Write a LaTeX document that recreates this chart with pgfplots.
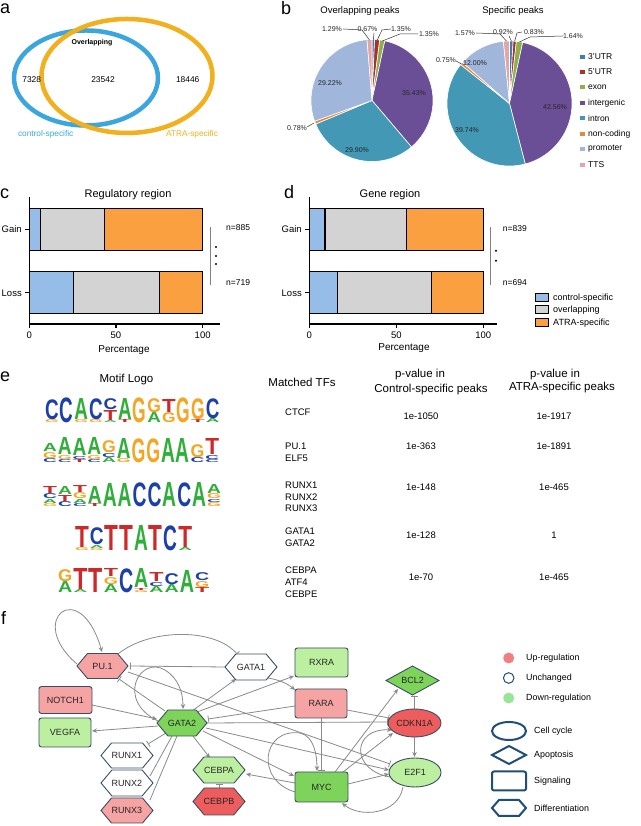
\documentclass[border=0pt]{standalone}
\usepackage{fontspec}
\setmainfont{Liberation Sans}
\usepackage{graphicx}
\usepackage{pgfplots}
\pgfplotsset{compat=1.18}
\usetikzlibrary{arrows.meta}
\newcommand\fs[1]{\fontsize{#1pt}{#1pt}\selectfont}
\definecolor{vblue}{HTML}{3AA6DD}
\definecolor{vorange}{HTML}{F2B01E}
\definecolor{c3utr}{HTML}{3F7DB8}
\definecolor{c5utr}{HTML}{A8322D}
\definecolor{cexon}{HTML}{8DB04A}
\definecolor{cinter}{HTML}{6B4F96}
\definecolor{cintron}{HTML}{4298B5}
\definecolor{cnonc}{HTML}{E9873A}
\definecolor{cprom}{HTML}{A0B6DB}
\definecolor{ctts}{HTML}{E3A6A5}
\definecolor{ctrl}{HTML}{96BCE8}
\definecolor{over}{HTML}{D3D3D3}
\definecolor{atra}{HTML}{FBA040}
\definecolor{lA}{HTML}{2FAE3A}
\definecolor{lC}{HTML}{1C3FA8}
\definecolor{lG}{HTML}{F4A623}
\definecolor{lT}{HTML}{CC2A2A}
\definecolor{npink}{HTML}{F5A3A3}
\definecolor{nred}{HTML}{EE5D5D}
\definecolor{nlgreen}{HTML}{BDEFA0}
\definecolor{ngreen}{HTML}{7ED35A}
\definecolor{nedge}{HTML}{3A4E63}
\definecolor{egray}{HTML}{8A8A8A}
\definecolor{lgblue}{HTML}{1F4E79}
\definecolor{legup}{HTML}{F08080}
\definecolor{legdown}{HTML}{98E598}

\newcommand\lc[3]{%
 \foreach \L/\h [remember=\yy as \yb (initially #2), evaluate=\h as \yy using \yb-\h-0.4] in {#3}{%
   \node[inner sep=0pt, anchor=south west] at (#1,\yb) {\resizebox*{\lw pt}{\h pt}{\textcolor{l\L}{\bfseries \L}}};}}
\newcommand\hex[6]{%
  \filldraw[fill=#5, draw=nedge, line width=0.9pt] ({#1-#3/2},#2) -- ({#1-#3/2+0.42*#4},{#2-#4/2}) -- ({#1+#3/2-0.42*#4},{#2-#4/2}) -- ({#1+#3/2},#2) -- ({#1+#3/2-0.42*#4},{#2+#4/2}) -- ({#1-#3/2+0.42*#4},{#2+#4/2}) -- cycle;
  \node[font=\fs{9}, text=black!85] at (#1,#2) {#6};}
\newcommand\rct[6]{%
  \filldraw[fill=#5, draw=nedge, line width=0.9pt, rounded corners=2.5pt] ({#1-#3/2},{#2-#4/2}) rectangle ({#1+#3/2},{#2+#4/2});
  \node[font=\fs{9}, text=black!85] at (#1,#2) {#6};}

\tikzset{edge/.style={draw=egray, line width=0.8pt},
  ar/.style={-{Stealth[length=5pt,width=4.5pt]}},
  tb/.style={-{Bar[width=7pt]}}}

\begin{document}
\begin{tikzpicture}[x=1pt,y=1pt]
\useasboundingbox (0,0) rectangle (640,826);
\fill[white] (0,0) rectangle (640,826);

% ---------- panel c ----------
\begin{axis}[
  at={(29.3pt,502pt)}, anchor=south west,
  scale only axis, width=190.7pt, height=126.5pt,
  xmin=0, xmax=110, ymin=-0.49, ymax=1.5,
  xbar stacked, bar width=42pt,
  axis lines=left, axis line style={-, line width=1.1pt, black},
  xtick={0,50,100}, ytick={0,1}, yticklabels={Loss,Gain},
  tick align=outside, major tick length=4pt, tick style={line width=1.1pt, black},
  tick label style={font=\fs{9.5}}, /pgf/number format/assume math mode=true,
  every axis plot/.append style={draw=black, line width=1.1pt},
  clip=false]
\addplot[fill=ctrl] coordinates {(6.5,1) (25.4,0)};
\addplot[fill=over] coordinates {(36.8,1) (49.6,0)};
\addplot[fill=atra] coordinates {(56.7,1) (25.0,0)};
\end{axis}

% ---------- panel d ----------
\begin{axis}[
  at={(309.3pt,502pt)}, anchor=south west,
  scale only axis, width=187.7pt, height=126.5pt,
  xmin=0, xmax=107.9, ymin=-0.49, ymax=1.5,
  xbar stacked, bar width=42pt,
  axis lines=left, axis line style={-, line width=1.1pt, black},
  xtick={0,50,100}, ytick={0,1}, yticklabels={Loss,Gain},
  tick align=outside, major tick length=4pt, tick style={line width=1.1pt, black},
  tick label style={font=\fs{9.5}}, /pgf/number format/assume math mode=true,
  every axis plot/.append style={draw=black, line width=1.1pt},
  clip=false]
\addplot[fill=ctrl] coordinates {(9.0,1) (16.1,0)};
\addplot[fill=over] coordinates {(46.9,1) (54.0,0)};
\addplot[fill=atra] coordinates {(44.1,1) (29.9,0)};
\end{axis}

% ---------- pies (normal orientation) ----------
\foreach \p/\c [remember=\e as \s (initially 90), evaluate=\p as \e using \s-3.6*\p] in
 {0.67/c3utr,1.35/c5utr,1.35/cexon,35.43/cinter,29.90/cintron,0.78/cnonc,29.22/cprom,1.29/ctts}{
  \filldraw[fill=\c, draw=white, line width=0.6pt] (372,725.5) -- ++(\s:61pt) arc[start angle=\s, end angle=\e, radius=61pt] -- cycle;}
\foreach \p/\c [remember=\e as \s (initially 90), evaluate=\p as \e using \s-3.6*\p] in
 {0.92/c3utr,0.83/c5utr,1.64/cexon,42.56/cinter,39.74/cintron,0.75/cnonc,12.00/cprom,1.57/ctts}{
  \filldraw[fill=\c, draw=white, line width=0.6pt] (509.5,722.5) -- ++(\s:62.5pt) arc[start angle=\s, end angle=\e, radius=62.5pt] -- cycle;}

\begin{scope}[y=-1pt, yshift=826pt]
% panel letters
\foreach \t/\x/\y in {a/0/14,b/281/14.5,c/0/198.3,d/284/198.3,e/0/381.7,f/1/625}
  \node[anchor=base west, font=\fs{18}, inner sep=0pt] at (\x,\y) {\t};

% ---------- Venn ----------
\draw[vblue, line width=4.5pt] (86,78) ellipse [x radius=72pt, y radius=47.5pt];
\draw[vorange, line width=4.5pt] (127,76) ellipse [x radius=85.5pt, y radius=57pt];
\node[font=\fs{7}\bfseries] at (92,43) {Overlapping};
\node[font=\fs{8.4}] at (31.7,80) {7328};
\node[font=\fs{8.4}] at (103,80) {23542};
\node[font=\fs{8.4}] at (187.7,80) {18446};
\node[font=\fs{8.3}, text=vblue] at (45.7,134) {control-specific};
\node[font=\fs{8.3}, text=vorange] at (192,134) {ATRA-specific};

% ---------- pie labels ----------
\node[font=\fs{9.5}] at (360,11) {Overlapping peaks};
\node[font=\fs{9.5}] at (513,11) {Specific peaks};
\begin{scope}[font=\fs{7}, text=black!85]
\node at (332,29) {1.29\%};
\node at (367.5,29) {0.67\%};
\node at (401,29) {1.35\%};
\node at (429,34) {1.35\%};
\node at (297,128) {0.78\%};
\node at (330,83) {29.22\%};
\node at (414,93) {35.43\%};
\node at (357,150) {29.90\%};
\node at (465,33) {1.57\%};
\node at (503,32) {0.92\%};
\node at (534,32) {0.83\%};
\node at (573,36) {1.64\%};
\node at (446,60) {0.75\%};
\node at (475,63) {12.00\%};
\node at (555,107) {42.56\%};
\node at (467,130) {39.74\%};
\end{scope}
\begin{scope}[draw=black!80, line width=0.5pt]
\draw (343,29) -- (362,30) -- (369.5,40);
\draw (374,33) -- (373.3,40);
\draw (391,29) -- (382,30) -- (377.2,40);
\draw (418,34) -- (400,34) -- (382.3,41);
\draw (307,127) -- (314,123);
\draw (476,33) -- (500,34) -- (506.4,41);
\draw (509,36) -- (511.4,41);
\draw (522,32) -- (517,33) -- (514.7,41);
\draw (563,36) -- (530,37) -- (519.5,42);
\draw (456,61) -- (461.6,64);
\end{scope}
% pie legend
\foreach \c/\t/\y in {c3utr/3'UTR/57,c5utr/5'UTR/72,cexon/exon/87,cinter/intergenic/103,cintron/intron/118,cnonc/non-coding/134,cprom/promoter/149,ctts/TTS/165}{
  \fill[\c] (580,\y-2.3) rectangle (584.6,\y+2.3);
  \node[anchor=west, font=\fs{8.5}, inner sep=0pt] at (588,\y) {\t};}

% ---------- c/d annotations ----------
\node[font=\fs{11}] at (128,195) {Regulatory region};
\node[font=\fs{11}] at (390,195) {Gene region};
\node[font=\fs{10}] at (124,350) {Percentage};
\node[font=\fs{10}] at (404,348) {Percentage};
\draw[gray, line width=0.8pt] (210,227) -- (210,285);
\foreach \y in {247,256,264} \fill (216,\y) circle (1.1pt);
\draw[gray, line width=0.8pt] (490,227) -- (490,285);
\foreach \y in {250.7,260.7} \fill (496,\y) circle (1.1pt);
\node[anchor=west, font=\fs{8.5}, inner sep=0pt] at (226,228) {n=885};
\node[anchor=west, font=\fs{8.5}, inner sep=0pt] at (226,283) {n=719};
\node[anchor=west, font=\fs{8.5}, inner sep=0pt] at (502.7,229) {n=839};
\node[anchor=west, font=\fs{8.5}, inner sep=0pt] at (502.7,283) {n=694};
\foreach \c/\t/\y in {ctrl/control-specific/297.7,over/overlapping/310,atra/ATRA-specific/323}{
  \filldraw[fill=\c, draw=black, line width=1pt] (535,\y-4) rectangle (548,\y+4);
  \node[anchor=west, font=\fs{9}, inner sep=0pt] at (553,\y) {\t};}

% ---------- panel e ----------
\node[font=\fs{11.5}] at (126.5,380) {Motif Logo};
\node[font=\fs{11.5}] at (302,382) {Matched TFs};
\node[font=\fs{11.5}] at (420,375) {p-value in};
\node[font=\fs{11.5}] at (431,390) {Control-specific peaks};
\node[font=\fs{11.5}] at (555,375) {p-value in};
\node[font=\fs{11.5}] at (562,388) {ATRA-specific peaks};
\begin{scope}[font=\fs{9.5}]
\foreach \t/\y in {CTCF/412,PU.1/446,ELF5/458,RUNX1/485,RUNX2/497,RUNX3/508.3,GATA1/531.7,GATA2/543.3,CEBPA/570.7,ATF4/582.7,CEBPE/594.3}
  \node[anchor=west, inner sep=0pt] at (285,\y) {\t};
\foreach \a/\b/\y in {1e-1050/1e-1917/416,1e-363/1e-1891/446,1e-148/1e-465/487,1e-128/1/535,1e-70/1e-465/577}{
  \node at (421,\y) {\a}; \node at (554,\y) {\b};}
\end{scope}

% logos
\def\lw{13.6}
\lc{45}{423}{G/3,C/20}
\lc{59.6}{423}{C/25}
\lc{74.2}{423}{G/3,A/21}
\lc{88.8}{423}{G/3,C/21}
\lc{103.4}{423}{A/2,T/10,C/11}
\lc{118}{423}{T/3,A/21}
\lc{132.6}{423}{G/25}
\lc{147.2}{423}{A/10,G/14}
\lc{161.8}{423}{G/10,T/13}
\lc{176.4}{423}{G/25}
\lc{191}{423}{T/3,G/21}
\lc{205.6}{423}{A/4,C/20}
\def\lw{13.8}
\lc{43}{463}{C/4,G/6,A/8}
\lc{57.75}{463}{C/3,G/4,A/17}
\lc{72.5}{463}{T/3,C/3,A/17}
\lc{87.25}{463}{C/3,G/4,A/17}
\lc{102}{463}{A/5,C/4,G/12}
\lc{116.75}{463}{G/4,A/20}
\lc{131.5}{463}{G/24}
\lc{146.25}{463}{G/24}
\lc{161}{463}{A/24}
\lc{175.75}{463}{A/24}
\lc{190.5}{463}{C/5,G/13}
\lc{205.25}{463}{C/3,C/4,T/16}
\def\lw{13.9}
\lc{43}{507}{G/3,A/4,C/5,T/7}
\lc{57.9}{507}{C/5,T/6,A/8}
\lc{72.8}{507}{C/3,A/4,G/6,T/7}
\lc{87.7}{507}{T/3,A/17}
\lc{102.6}{507}{A/23}
\lc{117.5}{507}{A/23}
\lc{132.4}{507}{C/24}
\lc{147.3}{507}{C/24}
\lc{162.2}{507}{A/24}
\lc{177.1}{507}{C/24}
\lc{192}{507}{A/24}
\lc{206.9}{507}{G/4,C/3,G/5,A/9}
\def\lw{13.8}
\lc{75}{551}{G/3,T/21}
\lc{89.75}{551}{G/2,A/3,C/17}
\lc{104.5}{551}{T/25}
\lc{119.25}{551}{T/25}
\lc{134}{551}{A/25}
\lc{148.75}{551}{T/25}
\lc{163.5}{551}{C/25}
\lc{178.25}{551}{A/3,T/21}
\def\lw{14.2}
\lc{58}{593}{A/11,G/12}
\lc{73.2}{593}{A/3,T/21}
\lc{88.4}{593}{T/24}
\lc{103.6}{593}{A/8,G/7,T/8}
\lc{118.8}{593}{C/24}
\lc{134}{593}{G/2,T/2,A/19}
\lc{149.2}{593}{A/6,C/4,T/9}
\lc{164.4}{593}{A/8,C/11}
\lc{179.6}{593}{A/22}
\lc{194.8}{593}{T/5,G/6,C/8}

% ---------- panel f: edges ----------
\draw[edge,ar] (77,664) .. controls (25,620) and (80,575) .. (102,652);
\draw[edge,tb] (118,654) .. controls (150,628) and (215,628) .. (237,654);
\draw[edge,tb] (225,667) -- (130,666);
\draw[edge,tb] (165,711) -- (119,679);
\draw[edge,tb] (128,672) -- (390,764);
\draw[edge,ar] (158,721) .. controls (115,700) and (140,655) .. (165,670) .. controls (178,678) and (183,692) .. (183,709);
\draw[edge,ar] (92,705) -- (157,719);
\draw[edge,ar] (158,726) -- (92,731);
\draw[edge,tb] (166,733) -- (148,744);
\draw[edge] (172,736) -- (150,776);
\draw[edge] (177,736) -- (150,800);
\draw[edge,ar] (193,736) -- (210,758);
\draw[edge,ar] (192,711) -- (236,679);
\draw[edge,ar] (197,712) -- (294,676);
\draw[edge,tb] (295,706) -- (208,719);
\draw[edge,tb] (207,723) -- (388,722);
\draw[edge,ar] (203,731) -- (294,776);
\draw[edge,ar] (206,728) -- (389,770);
\draw[edge,ar] (268,678) .. controls (280,680) and (288,684) .. (295,690);
\draw[edge,tb] (321,718) -- (321,771);
\draw[edge,tb] (347,710) -- (389,718);
\draw[edge,tb] (414.5,709) -- (414.5,696);
\draw[edge,ar] (414.5,737) -- (414.5,757);
\draw[edge,ar] (335,772) -- (398,689);
\draw[edge,ar] (343,772) -- (393,733);
\draw[edge,ar] (348,784) -- (389,774);
\draw[edge,ar] (295,783) -- (246,774);
\draw[edge,ar] (403,787) .. controls (398,815) and (360,818) .. (342,803);
\draw[edge,ar] (295,792) .. controls (255,780) and (262,728) .. (300,733) .. controls (314,736) and (317,755) .. (317,771);
\draw[edge,ar] (390,777) .. controls (350,770) and (352,728) .. (392,730);
\draw[edge,tb] (219,789) -- (219,784);

% ---------- panel f: nodes ----------
\hex{102.5}{666}{51}{25}{npink}{PU.1}
\hex{251}{667}{52}{26}{white}{GATA1}
\rct{321.5}{662.5}{53}{29}{nlgreen}{RXRA}
\filldraw[fill=ngreen, draw=nedge, line width=0.9pt] (386,680.5) -- (412.5,666) -- (439,680.5) -- (412.5,695) -- cycle;
\node[font=\fs{9}, text=black!85] at (412.5,680.5) {BCL2};
\rct{65.5}{700}{53}{27}{npink}{NOTCH1}
\hex{182}{723}{50}{26}{ngreen}{GATA2}
\rct{321}{703.5}{52}{29}{npink}{RARA}
\filldraw[fill=nred, draw=nedge, line width=0.9pt] (414.5,723) ellipse [x radius=26.5pt, y radius=14pt];
\node[font=\fs{9}, text=black!85] at (414.5,723) {CDKN1A};
\rct{65}{732.5}{52}{29}{nlgreen}{VEGFA}
\hex{127}{755.5}{52}{25}{white}{RUNX1}
\hex{219}{770}{52}{26}{nlgreen}{CEBPA}
\rct{321.5}{787}{53}{30}{ngreen}{MYC}
\filldraw[fill=nlgreen, draw=nedge, line width=0.9pt] (415,772.5) ellipse [x radius=26pt, y radius=14.5pt];
\node[font=\fs{9}, text=black!85] at (415,772.5) {E2F1};
\hex{127}{783}{52}{26}{white}{RUNX2}
\hex{219}{801.5}{52}{27}{nred}{CEBPB}
\hex{127}{810.5}{52}{25}{npink}{RUNX3}

% ---------- panel f: legend ----------
\fill[legup] (508.7,658) circle (5.5pt);
\draw[lgblue, line width=1pt, fill=white] (508.7,678) circle (5.3pt);
\fill[legdown] (508.7,698) circle (5.5pt);
\begin{scope}[font=\fs{8.9}]
\node[anchor=west, inner sep=0pt] at (526,658) {Up-regulation};
\node[anchor=west, inner sep=0pt] at (526,678) {Unchanged};
\node[anchor=west, inner sep=0pt] at (526,698) {Down-regulation};
\node[anchor=west, inner sep=0pt] at (534,731) {Cell cycle};
\node[anchor=west, inner sep=0pt] at (534,755) {Apoptosis};
\node[anchor=west, inner sep=0pt] at (534,781) {Signaling};
\node[anchor=west, inner sep=0pt] at (534,808) {Differentiation};
\end{scope}
\begin{scope}[draw=lgblue, line width=2pt]
\draw (509,731) ellipse [x radius=17pt, y radius=9pt];
\draw (492,755) -- (509,746) -- (526,755) -- (509,764) -- cycle;
\draw[rounded corners=2pt] (492,771.5) rectangle (526,790.5);
\draw (492,808) -- (499,800) -- (519,800) -- (526,808) -- (519,816) -- (499,816) -- cycle;
\end{scope}
\end{scope}
\end{tikzpicture}
\end{document}
